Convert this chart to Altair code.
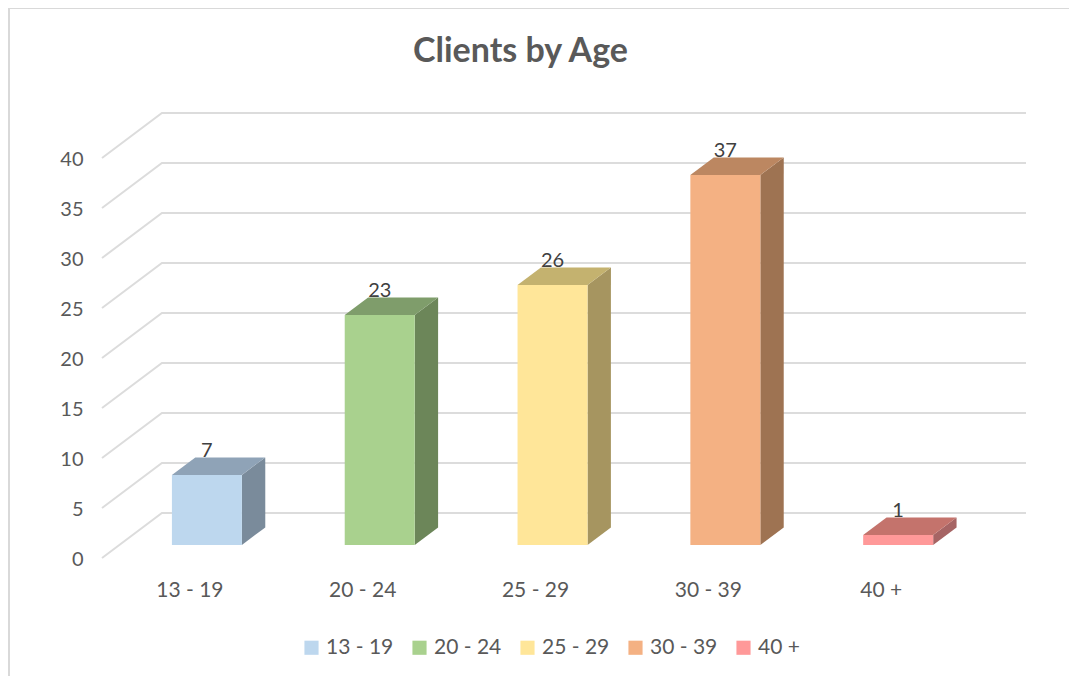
import altair as alt
import pandas as pd

categories = ["13 - 19", "20 - 24", "25 - 29", "30 - 39", "40 +"]
values = [7, 23, 26, 37, 1]
front_colors = ["#BDD7EE", "#A9D18E", "#FFE699", "#F4B183", "#FF9999"]
top_colors = ["#8FA3B7", "#7F9D6B", "#C4B26F", "#BC8761", "#C4736C"]
side_colors = ["#7A8B9B", "#6C8659", "#A69560", "#9E7352", "#A66464"]
y_ticks = [0, 5, 10, 15, 20, 25, 30, 35, 40]

# Oblique projection: a point at floor position c, height v, depth d
# (0 = front of the plot floor, 1 = back wall)
CAT_PX = 173.0
UNIT_PX = 10.0
DX = 60 / CAT_PX      # depth shift in category units
DY = 45 / UNIT_PX     # depth shift in value units
X_MAX = 926 / CAT_PX
Y_MAX = 44.5
D_FRONT, D_BACK = 0.29, 0.68
BAR_START, BAR_WIDTH = 0.304, 0.405


def px(c, d):
    return c + d * DX


def py(v, d):
    return v + d * DY


grid_rows, side_rows, top_rows, front_rows, label_rows = [], [], [], [], []
for t in y_ticks:
    grid_rows += [
        {"tick": t, "o": 0, "x": px(0, 0), "y": py(t, 0)},
        {"tick": t, "o": 1, "x": px(0, 1), "y": py(t, 1)},
        {"tick": t, "o": 2, "x": px(5, 1), "y": py(t, 1)},
    ]

for i, (cat, val) in enumerate(zip(categories, values)):
    left = i + BAR_START
    right = left + BAR_WIDTH
    for d in (D_FRONT, D_BACK):
        side_rows.append({"cat": cat, "fill": side_colors[i], "x": px(right, d),
                          "y": py(0, d), "y2": py(val, d)})
        top_rows.append({"cat": cat, "fill": top_colors[i], "y": py(val, d),
                         "x": px(left, d), "x2": px(right, d)})
    front_rows.append({"cat": cat, "x": px(left, D_FRONT), "x2": px(right, D_FRONT),
                       "y": py(0, D_FRONT), "y2": py(val, D_FRONT)})
    label_rows.append({"x": px((left + right) / 2, D_FRONT), "y": py(val, D_FRONT), "val": val})

x_scale = alt.Scale(domain=[0, X_MAX], nice=False, zero=False)
y_scale = alt.Scale(domain=[0, Y_MAX], nice=False, zero=False)
FONT = "Lato"
GREY = "#595959"

labels_js = "[" + ",".join(f"'{c}'" for c in categories) + "]"
x_axis = alt.Axis(
    values=[i + 0.5 for i in range(len(categories))],
    labelExpr=f"{labels_js}[floor(datum.value)]",
    title=None, grid=False, domain=False, ticks=False, labelAngle=0,
    labelFont=FONT, labelFontSize=21, labelColor=GREY, labelPadding=21, labelOffset=1,
)
y_axis = alt.Axis(
    values=y_ticks, title=None, grid=False, domain=False, ticks=False,
    labelFont=FONT, labelFontSize=20, labelColor=GREY, labelPadding=19, labelOffset=1,
)
X = alt.X("x:Q", scale=x_scale, axis=x_axis, stack=None)
Y = alt.Y("y:Q", scale=y_scale, axis=y_axis, stack=None)

grid = alt.Chart(pd.DataFrame(grid_rows)).mark_line(color="#DCDCDC", strokeWidth=2).encode(
    x=X, y=Y, detail="tick:N", order="o:Q"
)
side = alt.Chart(pd.DataFrame(side_rows)).mark_area(opacity=1, orient="vertical").encode(
    x=X, y=Y, y2="y2:Q", detail="cat:N",
    color=alt.Color("fill:N", scale=None),
)
top = alt.Chart(pd.DataFrame(top_rows)).mark_area(opacity=1, orient="horizontal").encode(
    y=Y, x=X, x2="x2:Q", detail="cat:N",
    color=alt.Color("fill:N", scale=None),
)
front = alt.Chart(pd.DataFrame(front_rows)).mark_rect(opacity=1).encode(
    x=X, x2="x2:Q", y=Y, y2="y2:Q",
    color=alt.Color(
        "cat:N",
        scale=alt.Scale(domain=categories, range=front_colors),
        sort=categories,
        legend=alt.Legend(
            title=None, orient="none", direction="horizontal", columns=5,
            legendX=199, legendY=524, symbolType="square", symbolSize=200,
            symbolStrokeWidth=0, symbolOpacity=1, labelFont=FONT, labelFontSize=21,
            labelColor=GREY, labelOffset=4, columnPadding=15,
        ),
    ),
)
text = alt.Chart(pd.DataFrame(label_rows)).mark_text(
    font=FONT, fontSize=20, color="#404040", dy=-24, baseline="middle", align="center"
).encode(x=X, y=Y, text="val:Q")

frame_data = pd.DataFrame({"a": [0]})
frame_left = alt.Chart(frame_data).mark_rule(color="#D9D9D9", strokeWidth=2).encode(
    x=alt.value(-93), y=alt.value(-105), y2=alt.value(563)
)
frame_top = alt.Chart(frame_data).mark_rule(color="#D9D9D9", strokeWidth=1).encode(
    x=alt.value(-94), x2=alt.value(967), y=alt.value(-104.5)
)

chart = alt.layer(grid, side, top, front, text, frame_left, frame_top).resolve_scale(
    color="independent"
).properties(
    width=925,
    height=445,
    background="white",
    autosize=alt.AutoSizeParams(type="none"),
    padding={"left": 94, "top": 105, "right": 42, "bottom": 118},
    title=alt.TitleParams(
        "Clients by Age", font=FONT, fontSize=34, fontWeight="bold", color=GREY,
        anchor="middle", frame="group", dx=-44, offset=-62,
    ),
).configure_view(stroke=None)

chart.save("out.html", embed_options={"renderer": "svg", "actions": False})
